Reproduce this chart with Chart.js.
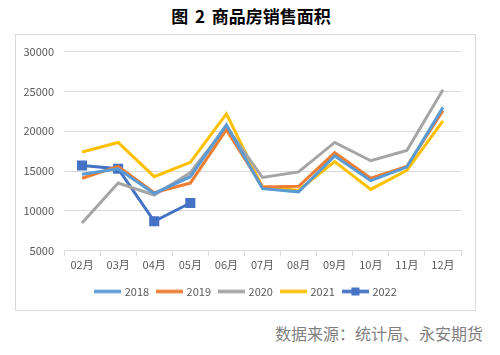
<!DOCTYPE html>
<html>
<head>
<meta charset="utf-8">
<script src="https://cdn.jsdelivr.net/npm/chart.js@4"></script>
<style>
  body { margin: 0; width: 500px; height: 355px; background: #fff; position: relative; font-family: "Noto Sans CJK SC", sans-serif; }
  #title { position: absolute; top: 3px; left: 0; width: 502px; text-align: center; font-size: 17px; font-weight: bold; color: #000; word-spacing: 3px; }
  #box { position: absolute; left: 15px; top: 34px; width: 459px; height: 275px; border: 1px solid #d9d9d9; }
  #chart { display: block; }
  #source { position: absolute; right: 17px; top: 321px; font-size: 16px; color: #7f7f7f; }
</style>
</head>
<body>
<div id="title">图 2 商品房销售面积</div>
<div id="box"><canvas id="chart" width="459" height="275"></canvas></div>
<div id="source">数据来源：统计局、永安期货</div>
<script>
const months = ['02月', '03月', '04月', '05月', '06月', '07月', '08月', '09月', '10月', '11月', '12月'];
const s2018 = [14600, 15300, 12200, 14300, 20800, 12800, 12400, 16900, 13800, 15500, 23000];
const s2019 = [14100, 15600, 12300, 13500, 20200, 13000, 13100, 17300, 14100, 15600, 22600];
const s2020 = [8500, 13500, 12000, 14800, 20600, 14200, 14900, 18600, 16300, 17600, 25200];
const s2021 = [17400, 18600, 14300, 16100, 22200, 13000, 12600, 16200, 12700, 15100, 21300];
const s2022 = [15700, 15300, 8700, 11000];
const yTicks = [5000, 10000, 15000, 20000, 25000, 30000];

// little legend swatch: line, optional square in the middle
function swatch(color, withSquare) {
  const c = document.createElement('canvas');
  c.width = 27; c.height = 10;
  const g = c.getContext('2d');
  g.strokeStyle = color; g.lineWidth = 3.5;
  g.beginPath(); g.moveTo(0, 5); g.lineTo(27, 5); g.stroke();
  if (withSquare) { g.fillStyle = color; g.fillRect(9.5, 1, 8, 8); }
  return c;
}

const series = [
  {label: '2018', data: s2018, color: '#5B9BD5'},
  {label: '2019', data: s2019, color: '#ED7D31'},
  {label: '2020', data: s2020, color: '#A5A5A5'},
  {label: '2021', data: s2021, color: '#FFC000'},
  {label: '2022', data: s2022, color: '#4472C4', marker: true},
];

// nudge the legend a bit right so it is centred on the box, like the original
const legendShift = {
  id: 'legendShift',
  afterLayout(chart) { chart.legend.right += 16; },
};

const ctx = document.getElementById('chart');
new Chart(ctx, {
  type: 'line',
  data: {
    labels: months,
    datasets: series.map(s => ({
      label: s.label,
      data: s.data,
      borderColor: s.color,
      backgroundColor: s.color,
      borderWidth: 3,
      tension: 0,
      pointStyle: s.marker ? 'rect' : 'circle',
      pointRadius: s.marker ? 5 : 0,
      pointHoverRadius: s.marker ? 5 : 0,
      legendImg: swatch(s.color, s.marker),
    })),
  },
  plugins: [legendShift],
  options: {
    responsive: false,
    animation: false,
    layout: {padding: {left: 0, right: 14, top: 13, bottom: 3}},
    plugins: {
      tooltip: {enabled: false},
      legend: {
        position: 'bottom',
        labels: {
          usePointStyle: true,
          pointStyleWidth: 23,
          boxHeight: 10,
          padding: 9,
          color: '#595959',
          font: {size: 11, family: '"Noto Sans CJK SC", sans-serif'},
          generateLabels: chart => chart.data.datasets.map((d, i) => ({
            text: d.label,
            pointStyle: d.legendImg,
            fontColor: '#595959',
            strokeStyle: d.borderColor,
            fillStyle: d.borderColor,
            lineWidth: 0,
            datasetIndex: i,
          })),
        },
      },
    },
    scales: {
      x: {
        offset: true,
        afterFit: axis => { axis.height += 4; },
        grid: {offset: true, drawOnChartArea: false, drawTicks: true, tickLength: 5, color: '#d9d9d9'},
        border: {display: true, color: '#d9d9d9'},
        ticks: {color: '#595959', font: {size: 11, family: '"Noto Sans CJK SC", sans-serif'}, padding: 2},
      },
      y: {
        min: 5000,
        max: 30000,
        afterBuildTicks: axis => { axis.ticks = yTicks.map(v => ({value: v})); },
        afterFit: axis => { axis.width = 48; },
        grid: {color: '#d9d9d9', drawTicks: false},
        border: {display: false},
        ticks: {
          color: '#595959',
          font: {size: 11, family: '"Noto Sans CJK SC", sans-serif'},
          padding: 10,
          callback: v => String(v),
        },
      },
    },
  },
});
</script>
</body>
</html>
